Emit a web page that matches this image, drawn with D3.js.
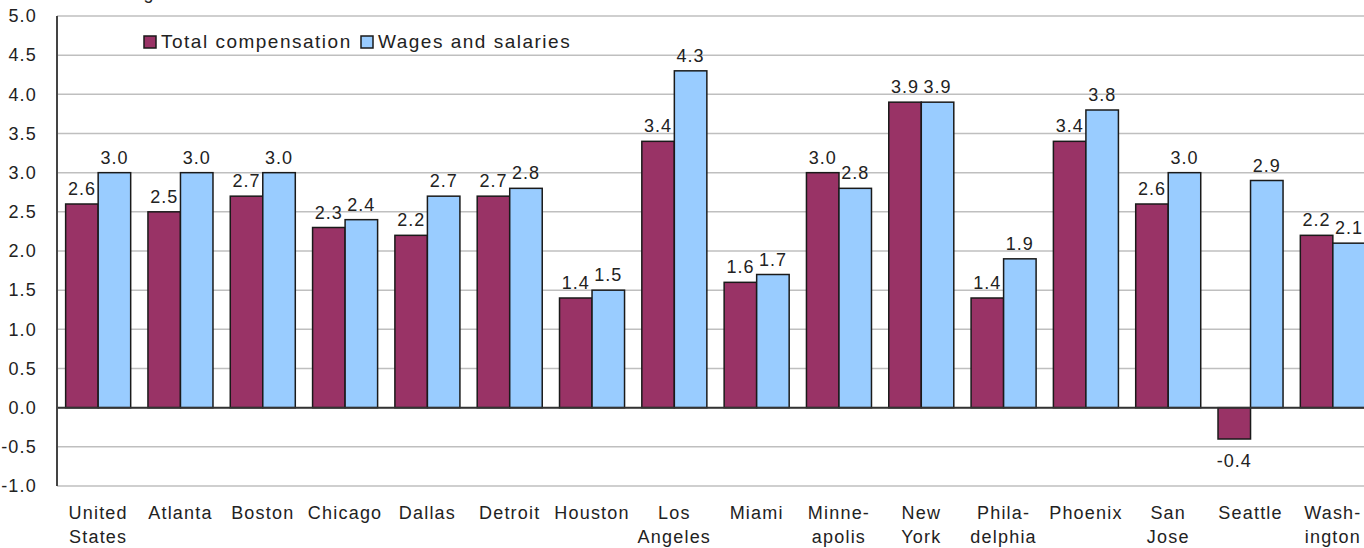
<!DOCTYPE html>
<html>
<head>
<meta charset="utf-8">
<script src="https://cdn.jsdelivr.net/npm/d3@7"></script>
<style>
  body { margin: 0; background: #fff; overflow: hidden; }
  svg text { font-family: "Liberation Sans", Arial, sans-serif; fill: #222; }
</style>
</head>
<body>
<svg id="chart" width="1364" height="548"></svg>
<script>

var cities = ["United\nStates", "Atlanta", "Boston", "Chicago", "Dallas", "Detroit", "Houston",
  "Los\nAngeles", "Miami", "Minne-\napolis", "New\nYork", "Phila-\ndelphia", "Phoenix",
  "San\nJose", "Seattle", "Wash-\nington"]
var totalComp = [2.6, 2.5, 2.7, 2.3, 2.2, 2.7, 1.4, 3.4, 1.6, 3.0, 3.9, 1.4, 3.4, 2.6, -0.4, 2.2]
var wages = [3.0, 3.0, 3.0, 2.4, 2.7, 2.8, 1.5, 4.3, 1.7, 2.8, 3.9, 1.9, 3.8, 3.0, 2.9, 2.1]
var seriesNames = ["Total compensation", "Wages and salaries"]
var seriesColors = ["#993366", "#99ccff"]
var yTicks = [-1.0, -0.5, 0.0, 0.5, 1.0, 1.5, 2.0, 2.5, 3.0, 3.5, 4.0, 4.5, 5.0]

// plain hyphen for negatives, like the original
var fmt = d3.formatLocale({ decimal: ".", thousands: ",", grouping: [3], currency: ["", ""], minus: "-" }).format(".1f")

function drawChart() {
  var svg = d3.select("#chart")
  var plotLeft = 57, plotRight = 1374, plotTop = 16, plotBottom = 486

  var x0 = d3.scaleBand().domain(d3.range(cities.length)).range([plotLeft, plotRight])
    .paddingInner(0.21).paddingOuter(0.105)
  var x1 = d3.scaleBand().domain([0, 1]).range([0, x0.bandwidth()])
  var y = d3.scaleLinear().domain([-1, 5]).range([plotBottom, plotTop])

  // axis title, mostly cut off above the picture
  svg.append("text").attr("x", 23).attr("y", -1)
    .style("font-size", "18px").style("letter-spacing", "1.2px")
    .text("Percent change")

  // gridlines
  svg.append("g").selectAll("line").data(yTicks).enter().append("line")
    .attr("x1", plotLeft).attr("x2", 1364)
    .attr("y1", function (d) { return y(d) }).attr("y2", function (d) { return y(d) })
    .attr("stroke", "#bfbfbf").attr("stroke-width", 1.5)

  // y axis labels
  var yAxis = d3.axisLeft(y).tickValues(yTicks).tickFormat(fmt).tickSize(0).tickPadding(20)
  var ya = svg.append("g").attr("transform", "translate(" + plotLeft + ",0)").call(yAxis)
  ya.select(".domain").remove()
  ya.selectAll("text").style("font-size", "18px").style("letter-spacing", "1.2px")
    .style("font-family", "'Liberation Sans', Arial, sans-serif").attr("fill", "#222")

  var rows = cities.map(function (c, i) { return [totalComp[i], wages[i]] })

  // bars
  var groups = svg.append("g").selectAll("g").data(rows).enter().append("g")
    .attr("transform", function (d, i) { return "translate(" + x0(i) + ",0)" })

  groups.selectAll("rect").data(function (d) { return d }).enter().append("rect")
    .attr("x", function (d, j) { return x1(j) })
    .attr("width", x1.bandwidth())
    .attr("y", function (d) { return y(Math.max(0, d)) })
    .attr("height", function (d) { return Math.abs(y(d) - y(0)) })
    .attr("fill", function (d, j) { return seriesColors[j] })
    .attr("stroke", "#1a1a1a").attr("stroke-width", 1.5)

  // value labels
  groups.selectAll("text").data(function (d) { return d }).enter().append("text")
    .attr("x", function (d, j) { return x1(j) + x1.bandwidth() / 2 })
    .attr("y", function (d) { return d >= 0 ? y(d) - 9 : y(d) + 28 })
    .attr("text-anchor", "middle")
    .style("font-size", "18px").style("letter-spacing", "1px")
    .text(function (d) { return fmt(d) })

  // axis lines
  svg.append("line").attr("x1", plotLeft).attr("x2", 1364).attr("y1", y(0)).attr("y2", y(0))
    .attr("stroke", "#333").attr("stroke-width", 2)
  svg.append("line").attr("x1", plotLeft).attr("x2", plotLeft).attr("y1", plotTop).attr("y2", plotBottom)
    .attr("stroke", "#444").attr("stroke-width", 2)

  // category labels
  var cat = svg.append("g").selectAll("text").data(cities).enter().append("text")
    .attr("x", function (d, i) { return x0(i) + x0.bandwidth() / 2 })
    .attr("y", 519)
    .attr("text-anchor", "middle")
    .style("font-size", "18px").style("letter-spacing", "1.2px")
  cat.selectAll("tspan").data(function (d) { return d.split("\n") }).enter().append("tspan")
    .attr("x", function () { return d3.select(this.parentNode).attr("x") })
    .attr("dy", function (d, k) { return k === 0 ? 0 : 24 })
    .text(function (d) { return d })

  // legend
  var legend = svg.append("g")
  var legX = [144, 361]
  seriesNames.forEach(function (name, j) {
    legend.append("rect").attr("x", legX[j]).attr("y", 36).attr("width", 12).attr("height", 12)
      .attr("fill", seriesColors[j]).attr("stroke", "#1a1a1a").attr("stroke-width", 1.5)
    legend.append("text").attr("x", legX[j] + 17).attr("y", 48)
      .style("font-size", "19px").style("letter-spacing", "1.5px")
      .text(name)
  })
}

drawChart()

</script>
</body>
</html>
